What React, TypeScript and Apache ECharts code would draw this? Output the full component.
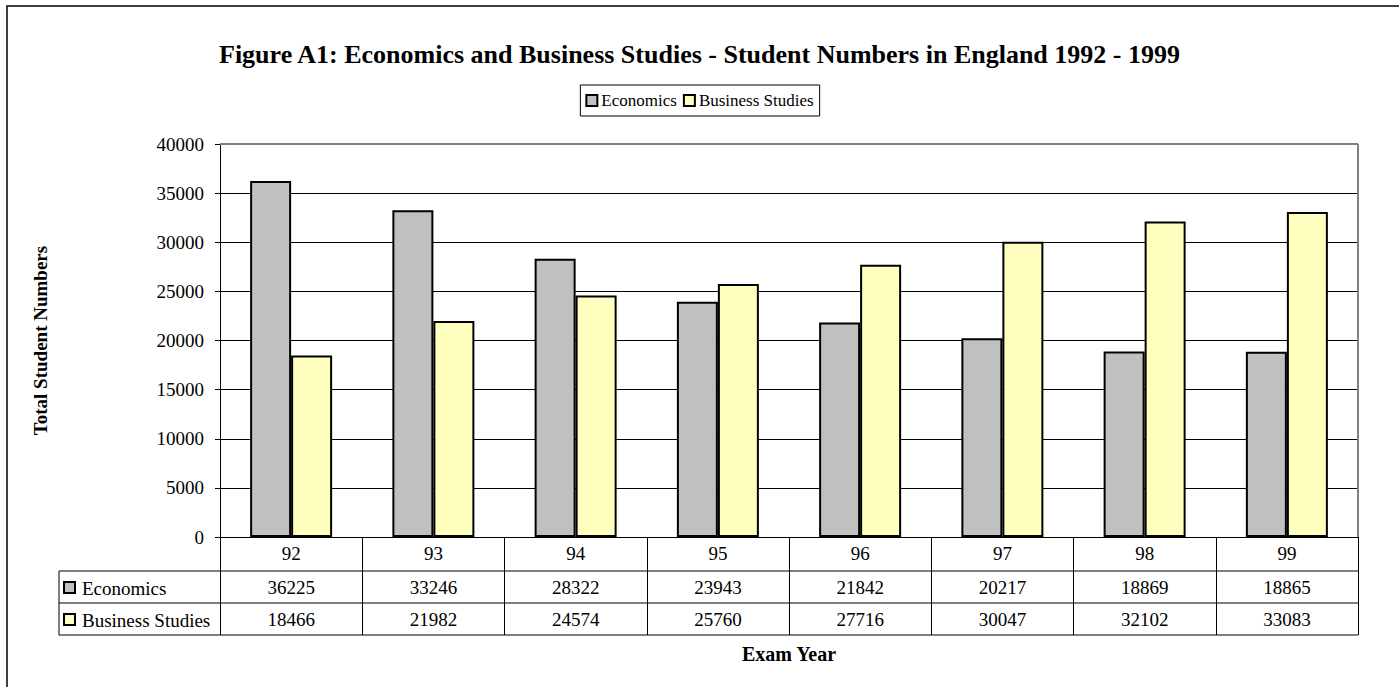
import React, { useEffect, useRef } from "react";
import * as echarts from "echarts";

const years = ["92", "93", "94", "95", "96", "97", "98", "99"];
const economics = [36225, 33246, 28322, 23943, 21842, 20217, 18869, 18865];
const business = [18466, 21982, 24574, 25760, 27716, 30047, 32102, 33083];
const seriesNames = ["Economics", "Business Studies"];
const yTicks = { min: 0, max: 40000, interval: 5000 };

const FONT = "Liberation Serif";
const ECON_COLOR = "#C0C0C0";
const BUS_COLOR = "#FFFFC0";

export default function App() {
  const ref = useRef<HTMLDivElement>(null);
  useEffect(() => {
    document.body.style.margin = "0";
    const chart = echarts.init(ref.current!, null, { renderer: "svg" });
    const gl = 220, gt = 144, gw = 1138, gh = 393;
    const gr = gl + gw, gb = gt + gh;
    const rowLines = [571, 603, 635];
    const colW = gw / years.length;
    const tableLeft = 59;
    const rows = [economics, business];
    const colors = [ECON_COLOR, BUS_COLOR];
    const graphics: any[] = [
      {
        type: "rect",
        shape: { x: 7, y: 6, width: 1500, height: 800 },
        style: { fill: "none", stroke: "#000", lineWidth: 1.5 },
        silent: true,
      },
      {
        type: "line",
        z: 100,
        shape: { x1: gl, y1: gt, x2: gr, y2: gt },
        style: { stroke: "#808080", lineWidth: 2 },
      },
      {
        type: "line",
        z: 100,
        shape: { x1: gr, y1: gt, x2: gr, y2: gb },
        style: { stroke: "#808080", lineWidth: 2 },
      },
    ];
    rowLines.forEach((y) => {
      graphics.push({
        type: "line",
        shape: { x1: tableLeft, y1: y, x2: gr, y2: y },
        style: { stroke: "#000", lineWidth: 1 },
      });
    });
    graphics.push({
      type: "line",
      shape: { x1: tableLeft, y1: rowLines[0], x2: tableLeft, y2: rowLines[2] },
      style: { stroke: "#000", lineWidth: 1 },
    });
    rows.forEach((vals, r) => {
      const cy = (rowLines[r] + rowLines[r + 1]) / 2 + 1;
      graphics.push({
        type: "rect",
        shape: { x: 64, y: cy - 6, width: 11, height: 11 },
        style: { fill: colors[r], stroke: "#000", lineWidth: 2 },
      });
      graphics.push({
        type: "text",
        x: 82,
        y: cy,
        style: {
          text: seriesNames[r],
          fontFamily: FONT,
          fontSize: 19,
          fill: "#000",
          verticalAlign: "middle",
        },
      });
      vals.forEach((v, i) => {
        graphics.push({
          type: "text",
          x: gl + colW * (i + 0.5),
          y: cy - 1,
          style: {
            text: String(v),
            fontFamily: FONT,
            fontSize: 19,
            fill: "#000",
            align: "center",
            verticalAlign: "middle",
          },
        });
      });
    });
    graphics.push({
      type: "text",
      x: gl + gw / 2,
      y: 654,
      style: {
        text: "Exam Year",
        fontFamily: FONT,
        fontSize: 20,
        fontWeight: "bold",
        fill: "#000",
        align: "center",
        verticalAlign: "middle",
      },
    });

    chart.setOption({
      animation: false,
      backgroundColor: "#fff",
      title: {
        text: "Figure A1: Economics and Business Studies - Student Numbers in England 1992 - 1999",
        left: "center",
        top: 36,
        textStyle: { fontFamily: FONT, fontSize: 26, fontWeight: "bold", color: "#000" },
      },
      legend: {
        data: seriesNames,
        top: 85,
        left: "center",
        borderColor: "#000",
        borderWidth: 1,
        padding: [7, 6, 7, 5],
        itemWidth: 11,
        itemHeight: 11,
        itemGap: 6,
        icon: "rect",
        textStyle: { fontFamily: FONT, fontSize: 17, color: "#000", padding: [0, 0, 0, -1] },
      },
      grid: {
        left: gl,
        top: gt,
        width: gw,
        height: gh,
        show: false,
      },
      xAxis: {
        type: "category",
        data: years,
        axisLine: { lineStyle: { color: "#000", width: 1 } },
        axisTick: { show: true, length: rowLines[2] - gb, interval: 0, lineStyle: { color: "#000" } },
        axisLabel: { fontFamily: FONT, fontSize: 19, color: "#000", margin: 7 },
      },
      yAxis: {
        type: "value",
        min: yTicks.min,
        max: yTicks.max,
        interval: yTicks.interval,
        name: "Total Student Numbers",
        nameLocation: "middle",
        nameRotate: 90,
        nameGap: 170,
        nameTextStyle: { fontFamily: FONT, fontSize: 19, fontWeight: "bold", color: "#000" },
        axisLine: { show: true, lineStyle: { color: "#000", width: 1 } },
        axisTick: { show: true, length: 5, lineStyle: { color: "#000" } },
        axisLabel: {
          fontFamily: FONT,
          fontSize: 19,
          color: "#000",
          margin: 16,
          formatter: (v: number) => String(v),
        },
        splitLine: { lineStyle: { color: "#000", width: 1 } },
      },
      series: [
        {
          name: seriesNames[0],
          type: "bar",
          data: economics,
          barWidth: 41,
          barGap: "0%",
          itemStyle: { color: ECON_COLOR, borderColor: "#000", borderWidth: 2 },
        },
        {
          name: seriesNames[1],
          type: "bar",
          data: business,
          barWidth: 41,
          barGap: "0%",
          itemStyle: { color: BUS_COLOR, borderColor: "#000", borderWidth: 2 },
        },
      ],
      graphic: graphics,
    });
    return () => chart.dispose();
  }, []);
  return <div ref={ref} style={{ width: 1399, height: 687 }} />;
}
